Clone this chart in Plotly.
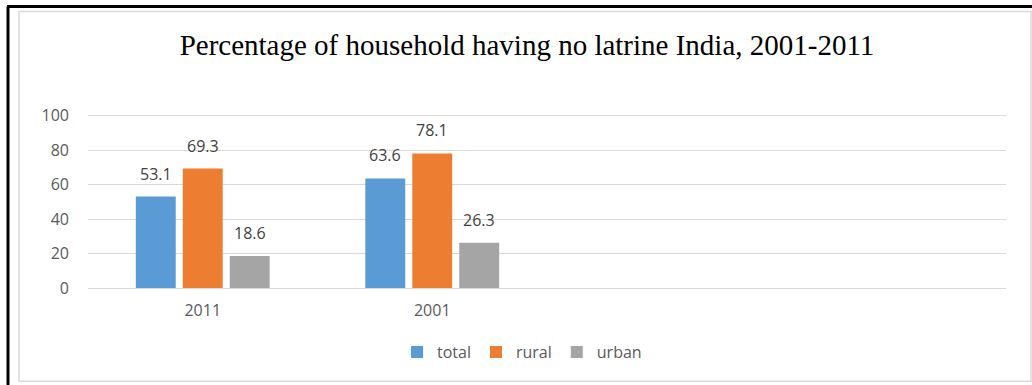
import plotly.graph_objects as go

# ---- data ----
categories = ["2011", "2001"]
total = [53.1, 63.6]
rural = [69.3, 78.1]
urban = [18.6, 26.3]
series_names = ["total", "rural", "urban"]
y_ticks = [0, 20, 40, 60, 80, 100]
title_text = "Percentage of household having no latrine India, 2001-2011"

colors = ["#5B9BD5", "#ED7D31", "#A5A5A5"]

W, H = 1032, 385
Y_TOP = 101
L, R = 88, 26
B = 97
PPU = 1.72  # pixels per y unit
PH = PPU * Y_TOP
T = H - B - PH
PW = W - L - R

BARGAP, GROUPGAP = 0.386, 0.15
N_CAT_SLOTS = 4
cat_px = PW / N_CAT_SLOTS
slot_px = cat_px * (1 - BARGAP) / 3


def px(x):
    return (x - L) / PW


def py(y):
    return (H - B - y) / PH


fig = go.Figure()
annotations = []
for i, (name, vals, col) in enumerate(zip(series_names, [total, rural, urban], colors)):
    fig.add_trace(go.Bar(
        x=categories, y=vals, name=name,
        marker=dict(color=col, line=dict(width=0)),
    ))
    for j, v in enumerate(vals):
        annotations.append(dict(
            x=j, y=v, xref="x", yref="y", text=f"{v:.1f}", showarrow=False,
            xshift=(i - 1) * slot_px, yshift=10, yanchor="bottom", xanchor="center",
            font=dict(family="Open Sans", size=16, color="#404040"),
        ))

shapes = [
    dict(type="rect", xref="paper", yref="paper",
         x0=px(19), x1=px(1031), y0=py(381), y1=py(12),
         line=dict(color="#D9D9D9", width=1.5), fillcolor="rgba(0,0,0,0)", layer="below"),
    dict(type="line", xref="paper", yref="paper",
         x0=px(8), x1=px(8), y0=py(7), y1=py(386),
         line=dict(color="black", width=3)),
    dict(type="line", xref="paper", yref="paper",
         x0=px(7), x1=px(1033), y0=py(7), y1=py(7),
         line=dict(color="black", width=3)),
]

fig.update_layout(
    width=W, height=H,
    margin=dict(l=L, r=R, t=T, b=B, pad=0),
    paper_bgcolor="white", plot_bgcolor="white",
    barmode="group", bargap=BARGAP, bargroupgap=GROUPGAP,
    title=dict(text=title_text, x=527 / W, xanchor="center", y=1 - 45 / H, yanchor="middle",
               xref="container", yref="container",
               font=dict(family="Liberation Serif", size=29, color="#000000")),
    xaxis=dict(type="category", range=[-0.5, N_CAT_SLOTS - 0.5], showgrid=False, showline=False,
               zeroline=False, ticks="", ticklabelstandoff=11,
               tickfont=dict(family="Open Sans", size=16, color="#595959")),
    yaxis=dict(range=[0, Y_TOP], tickvals=y_ticks, showgrid=True, gridcolor="#D9D9D9",
               gridwidth=1, zeroline=True, zerolinecolor="#D9D9D9", zerolinewidth=1,
               showline=False, ticks="", ticklabelstandoff=18,
               tickfont=dict(family="Open Sans", size=16, color="#595959")),
    legend=dict(orientation="h", x=px(522), xanchor="center", y=py(352), yanchor="middle",
                font=dict(family="Open Sans", size=16, color="#595959"),
                itemwidth=30, traceorder="normal"),
    shapes=shapes,
    annotations=annotations,
    showlegend=True,
)

fig.write_html("out.html", post_script="document.body.style.margin='0';",
               config={"displayModeBar": False})
